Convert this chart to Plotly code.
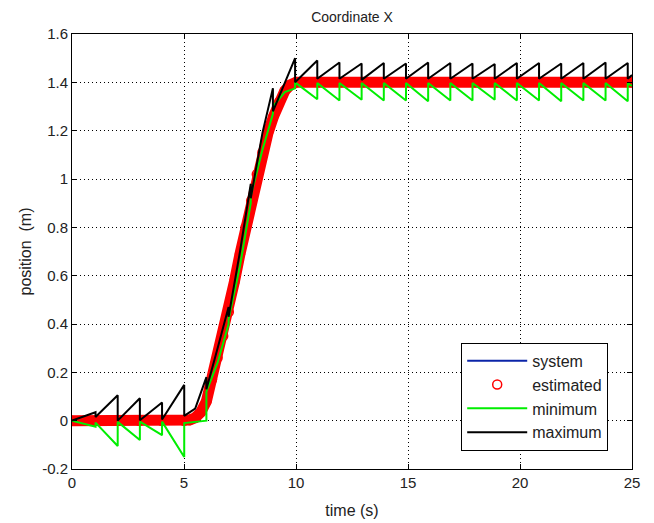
import plotly.graph_objects as go

# ---- data ----
est_t = [0, 1, 2, 3, 4, 5, 5.25, 5.5, 5.75, 6.0, 6.25, 6.5, 6.75, 7.0, 7.25, 7.5, 7.75,
         8.0, 8.25, 8.5, 8.75, 9.0, 9.25, 9.5, 9.75, 10, 11, 12, 13, 14, 15, 16, 17, 18,
         19, 20, 21, 22, 23, 24, 25]
est_x = [0.0, 0.0, 0.0, 0.0, 0.0, 0.0, 0.003, 0.012, 0.035, 0.08, 0.17, 0.26, 0.35, 0.45,
         0.575, 0.69, 0.80, 0.91, 1.02, 1.11, 1.19, 1.26, 1.32, 1.365, 1.39, 1.40, 1.40,
         1.40, 1.40, 1.40, 1.40, 1.40, 1.40, 1.40, 1.40, 1.40, 1.40, 1.40, 1.40, 1.40, 1.40]
sys_t = est_t
sys_x = est_x

max_t = [0, 1.05, 1.05, 2.04, 2.04, 3.03, 3.03, 4.02, 4.02, 5.01, 5.01, 5.5, 6.00, 6.00,
         6.5, 6.99, 6.99, 7.5, 7.98, 7.98, 8.5, 8.97, 8.97, 9.96, 9.96, 10.95, 10.95,
         11.94, 11.94, 12.93, 12.93, 13.92, 13.92, 14.91, 14.91, 15.90, 15.90, 16.89, 16.89,
         17.88, 17.88, 18.87, 18.87, 19.86, 19.86, 20.85, 20.85, 21.84, 21.84, 22.83, 22.83,
         23.82, 23.82, 24.81, 24.81, 25]
max_x = [0.0, 0.035, 0.015, 0.105, 0.0, 0.093, 0.002, 0.075, 0.005, 0.148, 0.02, 0.05, 0.18,
         0.13, 0.30, 0.47, 0.43, 0.70, 0.98, 0.92, 1.19, 1.376, 1.28, 1.50, 1.40, 1.49, 1.415,
         1.482, 1.415, 1.478, 1.41, 1.48, 1.415, 1.478, 1.415, 1.482, 1.415, 1.48, 1.415,
         1.478, 1.415, 1.476, 1.415, 1.48, 1.415, 1.48, 1.415, 1.478, 1.415, 1.48, 1.415,
         1.482, 1.415, 1.48, 1.415, 1.43]

min_t = [0, 1.05, 1.05, 2.04, 2.04, 3.03, 3.03, 4.02, 4.02, 5.01, 5.01, 5.95, 6.00, 6.00,
         6.5, 6.99, 6.99, 7.5, 7.98, 7.98, 8.5, 8.97, 8.97, 9.5, 9.96, 9.96, 10.95, 10.95,
         11.94, 11.94, 12.93, 12.93, 13.92, 13.92, 14.91, 14.91, 15.90, 15.90, 16.89, 16.89,
         17.88, 17.88, 18.87, 18.87, 19.86, 19.86, 20.85, 20.85, 21.84, 21.84, 22.83, 22.83,
         23.82, 23.82, 24.81, 24.81, 25]
min_x = [0.0, -0.025, -0.008, -0.105, -0.005, -0.08, -0.004, -0.06, -0.004, -0.15, -0.01, 0.0,
         0.0, 0.12, 0.24, 0.40, 0.42, 0.64, 0.90, 0.93, 1.12, 1.27, 1.30, 1.36, 1.375, 1.40,
         1.33, 1.397, 1.325, 1.397, 1.328, 1.397, 1.325, 1.397, 1.325, 1.397, 1.322, 1.397,
         1.325, 1.397, 1.325, 1.397, 1.328, 1.397, 1.325, 1.397, 1.325, 1.397, 1.322, 1.397,
         1.325, 1.397, 1.325, 1.397, 1.322, 1.397, 1.385]

x_ticks = [0, 5, 10, 15, 20, 25]
y_ticks = [-0.2, 0, 0.2, 0.4, 0.6, 0.8, 1.0, 1.2, 1.4, 1.6]
y_tick_text = ["-0.2", "0", "0.2", "0.4", "0.6", "0.8", "1", "1.2", "1.4", "1.6"]

FONT = "Liberation Sans"
TXT = "#222222"

fig = go.Figure()
fig.add_trace(go.Scatter(x=sys_t, y=sys_x, mode="lines", name="system", legendgroup="a",
                         line=dict(color="#0b24a8", width=2)))
fig.add_trace(go.Scatter(x=est_t, y=est_x, mode="lines", showlegend=False, legendgroup="b",
                         line=dict(color="#ff0000", width=11), hoverinfo="skip"))
fig.add_trace(go.Scatter(x=est_t, y=est_x, mode="markers", name="estimated", legendgroup="b",
                         marker=dict(symbol="circle-open", size=9, color="#ff0000",
                                     line=dict(width=1.5, color="#ff0000"))))
fig.add_trace(go.Scatter(x=min_t, y=min_x, mode="lines", name="minimum", legendgroup="c",
                         line=dict(color="#00ee00", width=2)))
fig.add_trace(go.Scatter(x=max_t, y=max_x, mode="lines", name="maximum", legendgroup="d",
                         line=dict(color="#000000", width=2)))

axis_common = dict(showline=True, linecolor="#000000", linewidth=1, mirror="ticks",
                   ticks="inside", ticklen=5, tickcolor="#000000",
                   showgrid=True, gridcolor="#000000", griddash="1px,3px", gridwidth=1,
                   zeroline=False, tickfont=dict(family=FONT, size=15, color=TXT))

fig.update_xaxes(range=[0, 25], tickvals=x_ticks,
                 title=dict(text="time (s)", font=dict(family=FONT, size=16, color=TXT),
                            standoff=14),
                 **axis_common)
fig.update_yaxes(range=[-0.2, 1.6], tickvals=y_ticks, ticktext=y_tick_text,
                 title=dict(text="position \u00a0(m)", font=dict(family=FONT, size=16, color=TXT),
                            standoff=6),
                 **axis_common)

fig.update_layout(
    width=646, height=515,
    margin=dict(l=64, r=22, t=26, b=54, autoexpand=False),
    paper_bgcolor="#ffffff", plot_bgcolor="#ffffff",
    title=dict(text="Coordinate X", x=0.5, xref="paper", y=1 - 9 / 515, yref="container",
               yanchor="middle", font=dict(family=FONT, size=14, color=TXT)),
    legend=dict(x=0.695, y=0.29, xanchor="left", yanchor="top", bgcolor="#ffffff",
                bordercolor="#000000", borderwidth=1, itemwidth=60,
                traceorder="grouped", tracegroupgap=0,
                font=dict(family=FONT, size=16, color=TXT)),
    showlegend=True,
)

fig.write_html("out.html")
